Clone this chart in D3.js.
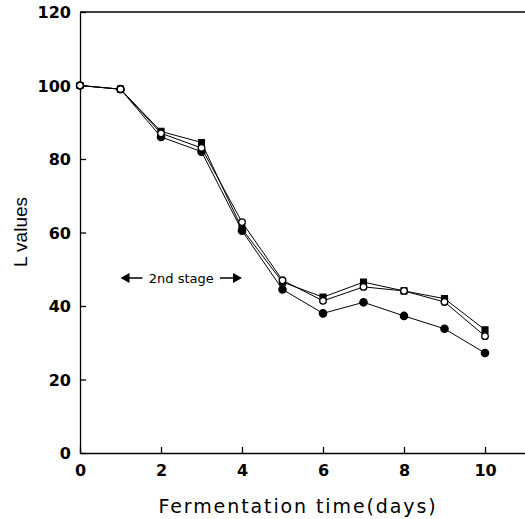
<!DOCTYPE html>
<html>
<head>
<meta charset="utf-8">
<script src="https://cdn.jsdelivr.net/npm/d3@7"></script>
<style>
  body { margin: 0; background: #fff; }
  svg { display: block; }
</style>
</head>
<body>
<div id="chart"></div>
<script>
/*data*/
var days = [0, 1, 2, 3, 4, 5, 6, 7, 8, 9, 10];
var filledCircle = [100, 99, 86, 82, 60.5, 44.5, 38, 41, 37.3, 33.8, 27.2];
var filledSquare = [100, 99, 87.5, 84.5, 61, 46.5, 42.4, 46.5, 44.1, 42, 33.5];
var openCircle = [100, 99, 87, 83, 62.8, 47, 41.4, 45.2, 44.1, 41.1, 31.8];
var xTicks = [0, 2, 4, 6, 8, 10];
var yTicks = [0, 20, 40, 60, 80, 100, 120];
var stage = [1, 4];

var svgWidth = 525, svgHeight = 519;

var svg = d3.select("#chart").append("svg")
  .attr("width", svgWidth)
  .attr("height", svgHeight);

var xScale = d3.scaleLinear().domain([0, 11]).range([80, 525.5]);
var yScale = d3.scaleLinear().domain([0, 120]).range([453, 12]);

/*frame: top line*/
svg.append("line")
  .attr("x1", xScale(0)).attr("x2", xScale(11))
  .attr("y1", yScale(120)).attr("y2", yScale(120))
  .attr("stroke", "#000").attr("stroke-width", 1.3);

/*axes with inward ticks*/
var bottomAxis = d3.axisBottom(xScale).tickValues(xTicks).tickSizeInner(-6).tickSizeOuter(0).tickPadding(12);
var leftAxis = d3.axisLeft(yScale).tickValues(yTicks).tickSizeInner(-6).tickSizeOuter(0).tickPadding(9);

var gx = svg.append("g")
  .attr("transform", "translate(0," + yScale(0) + ")")
  .call(bottomAxis);
var gy = svg.append("g")
  .attr("transform", "translate(" + xScale(0) + ",0)")
  .call(leftAxis);

[gx, gy].forEach(function(g) {
  g.selectAll("path, line").attr("stroke", "#000").attr("stroke-width", 1.3);
  g.selectAll("text")
    .attr("fill", "#000")
    .style("font-family", "DejaVu Sans")
    .style("font-weight", "bold")
    .style("font-size", "16px");
});
gy.selectAll("text").attr("dy", "0.36em");
gx.selectAll("text").attr("dy", "0.71em");

/*axis titles*/
svg.append("text")
  .attr("x", 298).attr("y", 513)
  .attr("text-anchor", "middle")
  .style("font-family", "DejaVu Sans")
  .style("font-size", "19px")
  .style("letter-spacing", "1.9px")
  .text("Fermentation time(days)");

svg.append("text")
  .attr("transform", "translate(27,232) rotate(-90)")
  .attr("text-anchor", "middle")
  .style("font-family", "Liberation Sans")
  .style("font-size", "19px")
  .text("L values");

/*series lines and markers*/
var series = [
  { name: "filledCircle", values: filledCircle, shape: d3.symbolCircle, fill: "#000", size: 42 },
  { name: "filledSquare", values: filledSquare, shape: d3.symbolSquare, fill: "#000", size: 34 },
  { name: "openCircle", values: openCircle, shape: d3.symbolCircle, fill: "#fff", size: 34 }
];

var line = d3.line()
  .x(function(d, i) { return xScale(days[i]); })
  .y(function(d) { return yScale(d); });

series.forEach(function(s) {
  svg.append("path")
    .attr("d", line(s.values))
    .attr("fill", "none")
    .attr("stroke", "#000")
    .attr("stroke-width", 1);
});

series.forEach(function(s) {
  svg.selectAll(".pt-" + s.name)
    .data(s.values)
    .enter()
    .append("path")
    .attr("class", "pt-" + s.name)
    .attr("d", d3.symbol().type(s.shape).size(s.size))
    .attr("transform", function(d, i) { return "translate(" + xScale(days[i]) + "," + yScale(d) + ")"; })
    .attr("fill", s.fill)
    .attr("stroke", "#000")
    .attr("stroke-width", 1.3);
});

/*2nd stage annotation*/
var arrowY = 278;
var x1 = xScale(stage[0]), x2 = xScale(stage[1]);
svg.append("line")
  .attr("x1", x1 + 4).attr("x2", x1 + 22)
  .attr("y1", arrowY).attr("y2", arrowY)
  .attr("stroke", "#000").attr("stroke-width", 1.5);
svg.append("line")
  .attr("x1", x2 - 22).attr("x2", x2 - 4)
  .attr("y1", arrowY).attr("y2", arrowY)
  .attr("stroke", "#000").attr("stroke-width", 1.5);
svg.append("path")
  .attr("d", "M" + x1 + "," + arrowY + "l9,-5l0,10z")
  .attr("fill", "#000");
svg.append("path")
  .attr("d", "M" + x2 + "," + arrowY + "l-9,-5l0,10z")
  .attr("fill", "#000");
svg.append("text")
  .attr("x", (x1 + x2) / 2).attr("y", arrowY + 4.5)
  .attr("text-anchor", "middle")
  .style("font-family", "DejaVu Sans")
  .style("font-size", "13px")
  .text("2nd stage");
</script>
</body>
</html>
